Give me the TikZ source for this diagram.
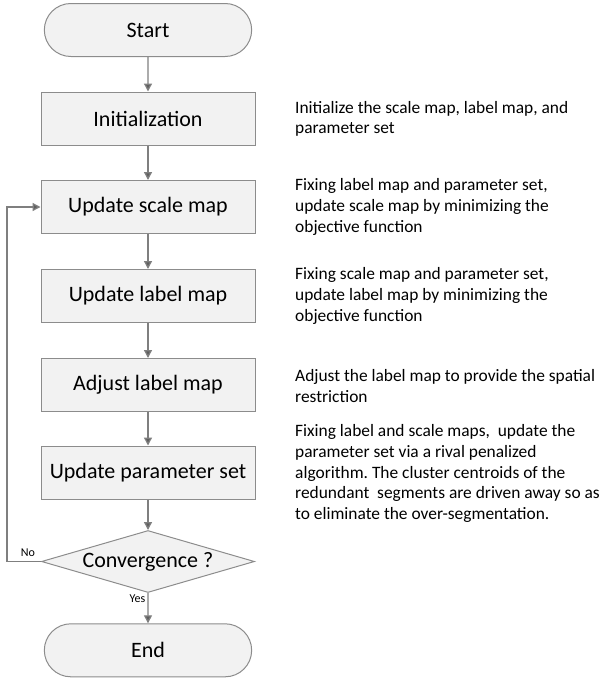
\documentclass[tikz,border=0pt]{standalone}
\usepackage{fontspec}
\setmainfont{Carlito}
\frenchspacing
\usetikzlibrary{shapes.geometric,shapes.misc,arrows.meta}
\definecolor{boxfill}{HTML}{F2F2F2}
\definecolor{boxline}{HTML}{8C8C8C}
\definecolor{flowline}{HTML}{7F7F7F}
\definecolor{tipfill}{HTML}{5F5F5F}
\tikzset{
  terminal/.style={draw=boxline, fill=boxfill, line width=1pt, rounded rectangle,
    minimum width=214pt, minimum height=53pt, font=\fontsize{22}{26}\selectfont},
  process/.style={draw=boxline, fill=boxfill, line width=1pt, rectangle,
    minimum width=214pt, minimum height=53pt, font=\fontsize{22}{26}\selectfont},
  decision/.style={draw=boxline, fill=boxfill, line width=1pt, diamond, aspect=3.4,
    inner sep=0pt, minimum width=213pt, minimum height=62pt, font=\fontsize{22}{26}\selectfont},
  note/.style={anchor=west, align=left, inner sep=0pt, font=\fontsize{17.4}{20.6}\selectfont},
  small/.style={inner sep=0pt, font=\fontsize{12}{14}\selectfont},
  flow/.style={draw=flowline, line width=1.3pt, -{Triangle[width=8pt,length=8pt,fill=tipfill]}},
}
\begin{document}
\begin{tikzpicture}[x=1pt,y=-1pt]
    \useasboundingbox (0,0) rectangle (604,681);
    % flow chart
    \node[terminal] (start) at (148,30) {Start};
    \node[process] (init) at (148,118.5) {Initialization};
    \node[process] (scale) at (148,207) {Update scale map};
    \node[process] (label) at (148,296) {Update label map};
    \node[process] (adjust) at (148,385) {Adjust label map};
    \node[process] (param) at (148,472.5) {Update parameter set};
    \node[decision] (conv) at (148,561.5) {Convergence ?};
    \node[terminal] (end) at (148,650.3) {End};
    \coordinate (back) at (7,561.5);
    \draw[flow] (start) to (init);
    \draw[flow] (init) to (scale);
    \draw[flow] (scale) to (label);
    \draw[flow] (label) to (adjust);
    \draw[flow] (adjust) to (param);
    \draw[flow] (param) to (conv);
    \draw[flow] (conv) to (end);
    \draw[flow] (conv.west) -- (back) |- (scale.west);
    \node[small] (no) at (28,553) {No};
    \node[small] (yes) at (137.5,598.5) {Yes};
    % descriptions
    \node[note] (initnote) at (295,119) {Initialize the scale map, label map, and\\parameter set};
    \node[note] (scalenote) at (295,207) {Fixing label map and parameter set,\\update scale map by minimizing the\\objective function};
    \node[note] (labelnote) at (295,296) {Fixing scale map and parameter set,\\update label map by minimizing the\\objective function};
    \node[note] (adjustnote) at (295,386) {Adjust the label map to provide the spatial\\restriction};
    \node[note] (paramnote) at (295,473.5) {Fixing label and scale maps,~ update the\\parameter set via a rival penalized\\algorithm. The cluster centroids of the\\redundant~ segments are driven away so as\\to eliminate the over-segmentation.};
\end{tikzpicture}
\end{document}
